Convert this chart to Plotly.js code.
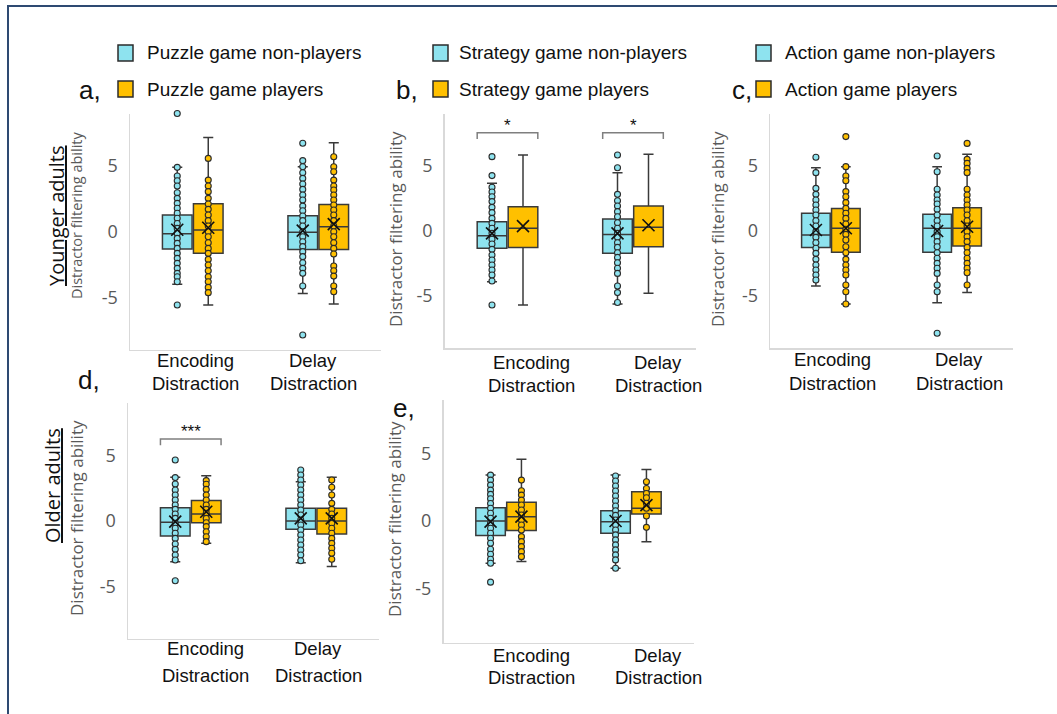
<!DOCTYPE html>
<html>
<head>
<meta charset="utf-8">
<script src="https://cdn.plot.ly/plotly-3.0.1.min.js"></script>
<style>html,body{margin:0;padding:0;background:#fff}#chart{width:1057px;height:714px}</style>
</head>
<body>
<div id="chart"></div>
<script>
// ---------- DATA ----------
const categories = ['Encoding Distraction', 'Delay Distraction'];
const categoryLines = [['Encoding', 'Distraction'], ['Delay', 'Distraction']];
const groupNames = ['non-players', 'players'];
const gameNames = ['Puzzle', 'Strategy', 'Action'];
const panelLetters = ['a,', 'b,', 'c,', 'd,', 'e,'];
const rowLabels = ['Younger adults', 'Older adults'];
const yTitle = 'Distractor filtering ability';
const yTickVals = [-5, 0, 5];
const yTickText = ['-5', '0', '5'];

// box order in every panel: [Encoding non-players, Encoding players, Delay non-players, Delay players]
// Panel a (younger, puzzle)
const aQ1 = [-1.32, -1.65, -1.35, -1.35];
const aMedian = [-0.15, 0.13, -0.05, 0.38];
const aQ3 = [1.27, 2.13, 1.22, 2.08];
const aLow = [-4.0, -5.58, -4.7, -5.5];
const aHigh = [4.9, 7.18, 4.95, 6.78];
const aMean = [0.15, 0.3, 0.08, 0.58];
const aEncNon = [9.0, 4.9, 4.24, 3.88, 3.48, 2.97, 2.54, 2.16, 1.78, 1.4, 1.02, 0.63, 0.25, -0.13, -0.51, -0.89, -1.27, -1.65, -2.03, -2.41, -2.79, -3.17, -3.43, -3.81, -5.58];
const aEncPl = [5.58, 3.93, 3.48, 3.05, 2.54, 2.11, 1.7, 1.27, 0.84, 0.43, 0, -0.38, -0.84, -1.27, -1.65, -2.11, -2.54, -2.97, -3.43, -3.81, -4.24, -4.64];
const aDelNon = [6.73, 5.41, 4.95, 4.49, 4.06, 3.63, 3.22, 2.79, 2.41, 1.95, 1.6, 1.19, 0.84, 0.43, 0, -0.38, -0.76, -1.14, -1.52, -1.9, -2.36, -2.79, -3.17, -4.14, -7.87];
const aDelPl = [5.71, 4.95, 4.57, 3.93, 3.48, 3.17, 2.79, 2.41, 2.03, 1.65, 1.27, 0.84, 0.43, 0, -0.38, -0.84, -1.27, -1.7, -2.61, -2.97, -3.38, -4.14, -4.57];

// Panel b (younger, strategy)
const bQ1 = [-1.33, -1.26, -1.72, -1.21];
const bMedian = [-0.36, 0.21, -0.26, 0.28];
const bQ3 = [0.72, 1.87, 0.92, 1.92];
const bLow = [-3.9, -5.69, -5.62, -4.79];
const bHigh = [3.67, 5.85, 4.49, 5.9];
const bMean = [-0.18, 0.38, -0.18, 0.44];
const bEncNon = [5.72, 4.26, 3.36, 3.0, 2.64, 2.26, 1.82, 1.41, 0.97, 0.59, 0.21, -0.18, -0.64, -1.0, -1.41, -1.85, -2.23, -2.62, -3.0, -3.38, -3.85, -5.69];
const bEncPl = [];
const bDelNon = [5.85, 4.87, 2.82, 2.33, 1.92, 1.49, 1.1, 0.64, 0.21, -0.18, -0.49, -0.9, -1.26, -1.67, -2.03, -2.44, -2.87, -3.26, -4.23, -4.74, -5.5];
const bDelPl = [];
const bSignif = ['*', '*'];

// Panel c (younger, action)
const cQ1 = [-1.26, -1.64, -1.64, -1.15];
const cMedian = [-0.31, 0.21, 0.21, 0.21];
const cQ3 = [1.36, 1.74, 1.28, 1.79];
const cLow = [-4.23, -5.62, -5.51, -4.74];
const cHigh = [4.87, 4.95, 4.95, 5.9];
const cMean = [0.08, 0.21, 0.0, 0.33];
const cEncNon = [9.05, 5.67, 4.49, 3.28, 2.82, 2.38, 2.0, 1.62, 1.23, 0.79, 0.38, -0.05, -0.49, -0.9, -1.33, -1.72, -2.18, -2.62, -3.0, -3.38, -3.77];
const cEncPl = [7.26, 4.95, 4.23, 3.87, 3.03, 2.64, 2.18, 1.74, 1.36, 0.97, 0.54, 0.13, -0.26, -0.69, -1.21, -1.67, -2.18, -2.62, -3.0, -3.38, -4.15, -4.67, -5.62];
const cDelNon = [5.77, 4.56, 3.21, 2.77, 2.38, 2.08, 1.67, 1.23, 0.79, 0.38, -0.05, -0.44, -0.82, -1.21, -1.67, -2.1, -2.49, -2.87, -3.26, -4.15, -4.67, -7.87];
const cDelPl = [6.74, 5.51, 5.2, 4.82, 4.49, 3.21, 2.77, 2.38, 2.0, 1.62, 1.23, 0.79, 0.38, -0.05, -0.44, -0.82, -1.26, -1.67, -2.1, -2.49, -2.87, -3.21, -4.15];

// Panel d (older, puzzle)
const dQ1 = [-1.15, -0.13, -0.64, -0.99];
const dMedian = [-0.1, 0.54, 0.0, 0.0];
const dQ3 = [1.02, 1.56, 0.97, 0.97];
const dLow = [-3.11, -1.71, -3.19, -3.49];
const dHigh = [3.34, 3.47, 3.01, 3.34];
const dMean = [-0.05, 0.71, 0.2, 0.2];
const dEncNon = [4.67, 3.32, 2.83, 2.37, 1.99, 1.61, 1.22, 0.89, 0.54, 0.2, -0.18, -0.56, -0.94, -1.33, -1.76, -2.17, -2.6, -2.98, -4.57];
const dEncPl = [3.09, 2.81, 2.42, 1.99, 1.61, 1.22, 0.89, 0.59, 0.2, -0.13, -0.43, -0.82, -1.2, -1.58];
const dDelNon = [3.9, 3.52, 3.14, 2.76, 2.37, 1.99, 1.61, 1.22, 0.84, 0.46, 0.08, -0.31, -0.69, -1.07, -1.45, -1.84, -2.22, -2.6, -3.04];
const dDelPl = [3.14, 2.58, 1.99, 1.35, 0.89, 0.54, 0.2, -0.18, -0.56, -0.94, -1.33, -1.71, -2.09, -2.47, -2.93];
const dSignif = ['***', ''];

// Panel e (older, strategy)
const eQ1 = [-1.08, -0.71, -0.91, 0.52];
const eMedian = [0.0, 0.32, -0.05, 0.94];
const eQ3 = [0.99, 1.38, 0.76, 2.17];
const eLow = [-3.13, -3.0, -3.5, -1.53];
const eHigh = [3.4, 4.58, 3.4, 3.82];
const eMean = [-0.05, 0.32, 0.0, 1.18];
const eEncNon = [3.4, 3.03, 2.66, 2.29, 1.97, 1.65, 1.3, 0.94, 0.57, 0.2, -0.17, -0.54, -0.91, -1.28, -1.65, -2.09, -2.46, -2.83, -3.13, -4.53];
const eEncPl = [3.03, 2.24, 1.92, 1.55, 1.18, 0.81, 0.44, 0.07, -0.3, -0.67, -1.16, -1.53, -1.9, -2.27, -2.64];
const eDelNon = [3.33, 2.96, 2.59, 2.22, 1.85, 1.48, 1.11, 0.76, 0.42, 0.07, -0.3, -0.67, -1.03, -1.4, -1.77, -2.14, -2.51, -2.88, -3.5];
const eDelPl = [2.91, 2.41, 2.04, 1.72, 1.31, 0.94, 0.37, -0.47];

// ---------- STYLE / LAYOUT ----------
const W = 1057, H = 714;
const COL = ['#8EE3EF', '#FFC000'];
const EDGE = '#3A3A3A';
const ARIAL = "'Liberation Sans', Arial, sans-serif";
const SANS = "'Open Sans', sans-serif";
const OFF = 0.1235, BW = 0.236;
const px = v => v / W;
const py = v => 1 - v / H;

const panels = [
  {q1: aQ1, med: aMedian, q3: aQ3, lo: aLow, hi: aHigh, mean: aMean, pts: [aEncNon, aEncPl, aDelNon, aDelPl], sig: null,
   xd: [130, 381], yd: [113.5, 349.9], letter: [90, 90], titleX: 76, titleY: 216, titleSize: 14.5,
   lab: {shift: [2.5, -5], y: [360, 383]}},
  {q1: bQ1, med: bMedian, q3: bQ3, lo: bLow, hi: bHigh, mean: bMean, pts: [bEncNon, bEncPl, bDelNon, bDelPl], sig: bSignif, sigY: [7.07, 7.56],
   xd: [444.75, 695.75], yd: [114, 348], letter: [407, 90], titleX: 396, titleY: 229, titleSize: 17,
   lab: {shift: [23.5, 25], y: [362, 385]}},
  {q1: cQ1, med: cMedian, q3: cQ3, lo: cLow, hi: cHigh, mean: cMean, pts: [cEncNon, cEncPl, cDelNon, cDelPl], sig: null,
   xd: [770.25, 1012.75], yd: [114, 348], letter: [742, 90], titleX: 718, titleY: 229, titleSize: 17,
   lab: {shift: [2, 7], y: [359, 383]}},
  {q1: dQ1, med: dMedian, q3: dQ3, lo: dLow, hi: dHigh, mean: dMean, pts: [dEncNon, dEncPl, dDelNon, dDelPl], sig: dSignif, sigY: [5.8, 6.27],
   xd: [128, 379], yd: [403.4, 638.6], letter: [89, 380], titleX: 76, titleY: 518, titleSize: 17,
   lab: {shift: [14.5, 2], y: [648, 675]}},
  {q1: eQ1, med: eMedian, q3: eQ3, lo: eLow, hi: eHigh, mean: eMean, pts: [eEncNon, eEncPl, eDelNon, eDelPl], sig: null,
   xd: [443.5, 693.5], yd: [399.5, 642.5], letter: [404, 408], titleX: 394, titleY: 519, titleSize: 17,
   lab: {shift: [25.5, 27], y: [655, 677]}}
];

const traces = [];
const layout = {
  width: W, height: H,
  margin: {l: 0, r: 0, t: 0, b: 0},
  paper_bgcolor: '#ffffff', plot_bgcolor: '#ffffff',
  showlegend: false,
  annotations: [], shapes: []
};

panels.forEach((p, k) => {
  const n = k + 1;
  const xa = 'x' + (n === 1 ? '' : n), ya = 'y' + (n === 1 ? '' : n);
  const xKey = 'xaxis' + (n === 1 ? '' : n), yKey = 'yaxis' + (n === 1 ? '' : n);
  layout[xKey] = {
    domain: [px(p.xd[0]), px(p.xd[1])], range: [0.5, 2.5], anchor: ya,
    showgrid: false, zeroline: false, showticklabels: false, ticks: '',
    showline: true, linecolor: '#D9D9D9', linewidth: 1.5, fixedrange: true
  };
  layout[yKey] = {
    domain: [py(p.yd[1]), py(p.yd[0])], range: [-9, 9], anchor: xa,
    showgrid: false, zeroline: false, ticks: '',
    tickvals: yTickVals, ticktext: yTickText, ticklabelstandoff: 7,
    tickfont: {family: SANS, size: 18, color: '#595959'},
    showline: true, linecolor: '#D9D9D9', linewidth: 1.5, fixedrange: true
  };
  const posOf = j => Math.floor(j / 2) + 1 + (j % 2 ? OFF : -OFF);
  // boxes
  for (let j = 0; j < 4; j++) {
    const g = j % 2;
    traces.push({
      type: 'box', xaxis: xa, yaxis: ya, x: [posOf(j)],
      q1: [p.q1[j]], median: [p.med[j]], q3: [p.q3[j]],
      lowerfence: [p.lo[j]], upperfence: [p.hi[j]],
      width: BW, whiskerwidth: 0.34, boxpoints: false,
      fillcolor: COL[g], line: {color: EDGE, width: 1.5},
      hoverinfo: 'skip', showlegend: false
    });
  }
  // points
  for (let j = 0; j < 4; j++) {
    const g = j % 2;
    const ys = p.pts[j];
    if (!ys.length) continue;
    traces.push({
      type: 'scatter', mode: 'markers', xaxis: xa, yaxis: ya,
      x: ys.map(() => posOf(j)), y: ys,
      marker: {symbol: 'circle', size: 6, color: COL[g], line: {color: '#2B2B2B', width: 1.1}},
      hoverinfo: 'skip', showlegend: false, cliponaxis: false
    });
  }
  // means
  traces.push({
    type: 'scatter', mode: 'markers', xaxis: xa, yaxis: ya,
    x: [0, 1, 2, 3].map(posOf), y: p.mean,
    marker: {symbol: 'x-thin-open', size: 12, color: '#111', line: {color: '#111', width: 1.6}},
    hoverinfo: 'skip', showlegend: false
  });
  // significance brackets
  if (p.sig) {
    p.sig.forEach((s, cat) => {
      if (!s) return;
      const x0 = cat + 1 - OFF - BW / 2, x1 = cat + 1 + OFF + BW / 2;
      layout.shapes.push({
        type: 'path', xref: xa, yref: ya,
        path: `M ${x0},${p.sigY[0]} L ${x0},${p.sigY[1]} L ${x1},${p.sigY[1]} L ${x1},${p.sigY[0]}`,
        line: {color: '#7F7F7F', width: 1.5}
      });
      layout.annotations.push({
        xref: xa, yref: ya, x: cat + 1, y: p.sigY[1], text: s, showarrow: false,
        xanchor: 'center', yanchor: 'bottom', yshift: -4,
        font: {family: ARIAL, size: 17, color: '#111'}
      });
    });
  }
  // category labels (two lines)
  categoryLines.forEach((lines, cat) => {
    lines.forEach((t, li) => {
      layout.annotations.push({
        xref: xa, yref: 'paper', x: cat + 1, y: py(p.lab.y[li]), xshift: p.lab.shift[cat],
        text: t, showarrow: false, xanchor: 'center', yanchor: 'middle',
        font: {family: ARIAL, size: 18.5, color: '#111'}
      });
    });
  });
  // y title
  layout.annotations.push({
    xref: 'paper', yref: 'paper', x: px(p.titleX), y: py(p.titleY), text: yTitle,
    textangle: -90, showarrow: false, xanchor: 'center', yanchor: 'middle',
    font: {family: SANS, size: p.titleSize, color: '#595959'}
  });
  // panel letter
  layout.annotations.push({
    xref: 'paper', yref: 'paper', x: px(p.letter[0]), y: py(p.letter[1]), text: panelLetters[k],
    showarrow: false, xanchor: 'center', yanchor: 'middle',
    font: {family: ARIAL, size: 26, color: '#111'}
  });
});

// row labels
[[56, 216], [52, 486]].forEach((pos, r) => {
  layout.annotations.push({
    xref: 'paper', yref: 'paper', x: px(pos[0]), y: py(pos[1]), text: '<u>' + rowLabels[r] + '</u>',
    textangle: -90, showarrow: false, xanchor: 'center', yanchor: 'middle',
    font: {family: SANS, size: 20, color: '#111'}
  });
});

// legends (one per game column)
const legendPos = [[118, 145], [433, 457], [756, 783]];
gameNames.forEach((gname, c) => {
  groupNames.forEach((grp, g) => {
    const yc = g ? 89 : 53;
    layout.shapes.push({
      type: 'rect', xref: 'paper', yref: 'paper',
      x0: px(legendPos[c][0]), x1: px(legendPos[c][0] + 15),
      y0: py(yc - 8), y1: py(yc + 8),
      fillcolor: COL[g], line: {color: '#2B2B2B', width: 1.5}
    });
    layout.annotations.push({
      xref: 'paper', yref: 'paper', x: px(legendPos[c][1]), y: py(yc),
      text: gname + ' game ' + grp, showarrow: false, xanchor: 'left', yanchor: 'middle',
      font: {family: ARIAL, size: 19, color: '#111'}
    });
  });
});

// frame
layout.shapes.push({
  type: 'rect', xref: 'paper', yref: 'paper',
  x0: px(8), x1: 1.02, y0: -0.02, y1: py(6),
  line: {color: '#2E4A72', width: 2}, fillcolor: 'rgba(0,0,0,0)'
});

Plotly.newPlot('chart', traces, layout, {staticPlot: true, displayModeBar: false});
</script>
</body>
</html>
